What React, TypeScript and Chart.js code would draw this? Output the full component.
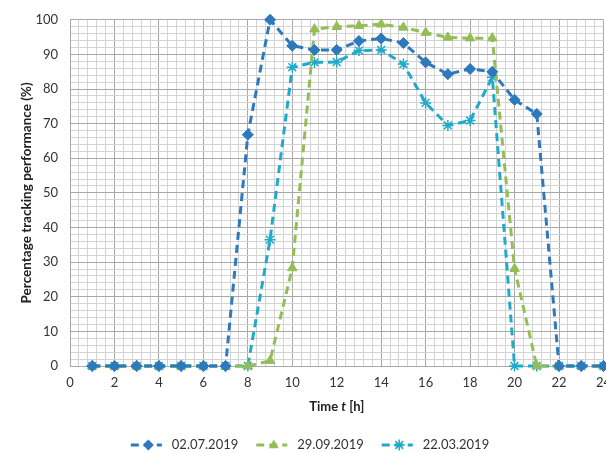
import React, { useEffect, useRef } from "react";
import { Chart, registerables } from "chart.js";

Chart.register(...registerables);

const hours = [1, 2, 3, 4, 5, 6, 7, 8, 9, 10, 11, 12, 13, 14, 15, 16, 17, 18, 19, 20, 21, 22, 23, 24];
const series0207 = [0, 0, 0, 0, 0, 0, 0, 66.8, 100, 92.5, 91.3, 91.3, 93.9, 94.6, 93.3, 87.7, 84.3, 85.8, 85.0, 76.9, 72.8, 0, 0, 0];
const series2909 = [0, 0, 0, 0, 0, 0, 0, 0, 1.5, 28.3, 97.3, 98.0, 98.3, 98.7, 97.8, 96.3, 94.9, 94.7, 94.7, 28.1, 0, 0, 0, 0];
const series2203 = [0, 0, 0, 0, 0, 0, 0, 0, 36.5, 86.3, 87.7, 87.8, 91.1, 91.3, 87.2, 76.0, 69.5, 70.9, 83.4, 0, 0, 0, 0, 0];
const seriesLabels = ["02.07.2019", "29.09.2019", "22.03.2019"];
const seriesColors = ["#2E78BC", "#94BE55", "#1FAACC"];
const seriesMarkers = ["rectRot", "triangle", "star"];
const yTitle = "Percentage tracking performance (%)";

const FONT = "Lato, 'Open Sans', sans-serif";

const isMult = (v: number, m: number) => Math.abs(v / m - Math.round(v / m)) < 1e-6;

function drawMarker(ctx: CanvasRenderingContext2D, style: string, x: number, y: number, r: number, color: string) {
  ctx.save();
  ctx.fillStyle = color;
  ctx.strokeStyle = color;
  ctx.lineWidth = 1.5;
  ctx.beginPath();
  if (style === "rectRot") {
    ctx.moveTo(x, y - r);
    ctx.lineTo(x + r, y);
    ctx.lineTo(x, y + r);
    ctx.lineTo(x - r, y);
    ctx.closePath();
    ctx.fill();
  } else if (style === "triangle") {
    ctx.moveTo(x, y - r);
    ctx.lineTo(x + r * 0.9, y + r * 0.6);
    ctx.lineTo(x - r * 0.9, y + r * 0.6);
    ctx.closePath();
    ctx.fill();
  } else {
    for (let k = 0; k < 4; k++) {
      const a = (k * Math.PI) / 4;
      ctx.moveTo(x - Math.cos(a) * r, y - Math.sin(a) * r);
      ctx.lineTo(x + Math.cos(a) * r, y + Math.sin(a) * r);
    }
    ctx.stroke();
  }
  ctx.restore();
}

export default function App() {
  const ref = useRef<HTMLCanvasElement | null>(null);

  useEffect(() => {
    const canvas = ref.current;
    if (!canvas) return;
    const allSeries = [series0207, series2909, series2203];

    const customPlugin = {
      id: "customText",
      afterDraw(chart: any) {
        const ctx = chart.ctx;
        const area = chart.chartArea;
        ctx.save();
        // x axis title with italic t
        const cx = (area.left + area.right) / 2;
        const ty = 407;
        const p1 = "Time ";
        const p2 = "t";
        const p3 = " [h]";
        ctx.fillStyle = "#222";
        ctx.textBaseline = "middle";
        ctx.font = `bold 13px ${FONT}`;
        const w1 = ctx.measureText(p1).width;
        const w3 = ctx.measureText(p3).width;
        ctx.font = `italic bold 13px ${FONT}`;
        const w2 = ctx.measureText(p2).width;
        let x = cx - (w1 + w2 + w3) / 2;
        ctx.textAlign = "left";
        ctx.font = `bold 13px ${FONT}`;
        ctx.fillText(p1, x, ty);
        x += w1;
        ctx.font = `italic bold 13px ${FONT}`;
        ctx.fillText(p2, x, ty);
        x += w2;
        ctx.font = `bold 13px ${FONT}`;
        ctx.fillText(p3, x, ty);

        // legend
        const ly = 445;
        const symW = 31;
        const gap1 = 10;
        const gap2 = 18;
        ctx.font = `13px ${FONT}`;
        const widths = seriesLabels.map((t) => ctx.measureText(t).width);
        const total = widths.reduce((a, b) => a + b, 0) + 3 * (symW + gap1) + 2 * gap2;
        let lx = 310 - total / 2;
        seriesLabels.forEach((label, i) => {
          ctx.strokeStyle = seriesColors[i];
          ctx.lineWidth = 3;
          ctx.setLineDash([8, 5]);
          ctx.beginPath();
          ctx.moveTo(lx, ly);
          ctx.lineTo(lx + symW, ly);
          ctx.stroke();
          ctx.setLineDash([]);
          drawMarker(ctx, seriesMarkers[i], lx + symW / 2 + 2, ly, 5.5, seriesColors[i]);
          ctx.fillStyle = "#333";
          ctx.textAlign = "left";
          ctx.textBaseline = "middle";
          ctx.fillText(label, lx + symW + gap1, ly);
          lx += symW + gap1 + widths[i] + gap2;
        });
        ctx.restore();
      },
    };

    const chart = new Chart(canvas, {
      type: "line",
      data: {
        datasets: allSeries.map((vals, i) => ({
          label: seriesLabels[i],
          data: hours.map((h, j) => ({ x: h, y: vals[j] })),
          borderColor: seriesColors[i],
          backgroundColor: seriesColors[i],
          borderWidth: 3,
          borderDash: [8, 5],
          pointStyle: seriesMarkers[i] as any,
          pointRadius: 5.5,
          pointBorderWidth: i === 2 ? 1.5 : 1,
          pointBackgroundColor: seriesColors[i],
          pointBorderColor: seriesColors[i],
          tension: 0,
          fill: false,
          clip: 10 as any,
        })),
      },
      options: {
        animation: false,
        responsive: false,
        maintainAspectRatio: false,
        layout: { padding: { top: 19, right: 11, left: 0, bottom: 0 } },
        plugins: {
          legend: { display: false },
          tooltip: { enabled: false },
        },
        scales: {
          x: {
            type: "linear",
            min: 0,
            max: 24,
            afterFit: (s: any) => {
              s.height = 87;
            },
            ticks: {
              stepSize: 0.4,
              autoSkip: false,
              maxRotation: 0,
              minRotation: 0,
              padding: 9,
              color: "#333",
              font: { family: FONT, size: 13 },
              callback: (v: any) => (isMult(Number(v), 2) ? String(Math.round(Number(v))) : ""),
            },
            grid: {
              drawTicks: false,
              color: (c: any) => (isMult(c.tick.value, 2) ? "#a8a8a8" : "#d4d4d4"),
              lineWidth: 1,
            },
            border: { display: true, color: "#a8a8a8" },
          },
          y: {
            min: 0,
            max: 100,
            afterFit: (s: any) => {
              s.width = 70;
            },
            ticks: {
              stepSize: 2,
              autoSkip: false,
              padding: 12,
              color: "#333",
              font: { family: FONT, size: 13 },
              callback: (v: any) => (isMult(Number(v), 10) ? String(Math.round(Number(v))) : ""),
            },
            grid: {
              drawTicks: false,
              color: (c: any) => (isMult(c.tick.value, 10) ? "#a8a8a8" : "#d4d4d4"),
              lineWidth: 1,
            },
            border: { display: true, color: "#a8a8a8" },
            title: {
              display: true,
              text: yTitle,
              color: "#222",
              font: { family: FONT, size: 13.5, weight: "bold" },
              padding: { top: 19, bottom: 0 },
            },
          },
        },
      },
      plugins: [customPlugin],
    });

    return () => chart.destroy();
  }, []);

  return (
    <div
      style={{
        position: "fixed",
        left: 0,
        top: 0,
        width: 606,
        height: 453,
        overflow: "hidden",
        background: "#fff",
      }}
    >
      <canvas ref={ref} width={620} height={453} style={{ width: 620, height: 453, display: "block" }} />
    </div>
  );
}
